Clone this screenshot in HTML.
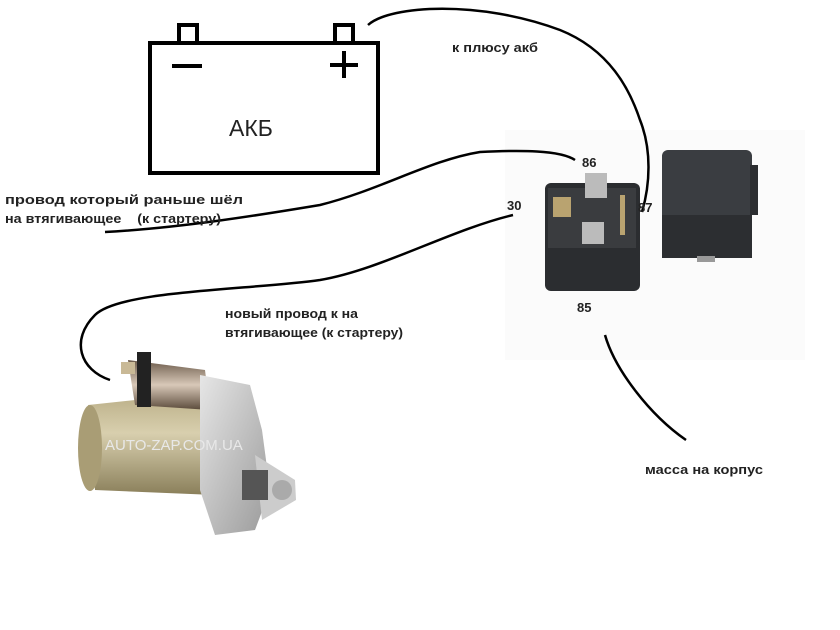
<!DOCTYPE html>
<html><head><meta charset="utf-8"><style>
html,body{margin:0;padding:0;background:#fff;}
svg{display:block}
text{font-family:"Liberation Sans","DejaVu Sans",sans-serif;font-weight:bold;fill:#222;white-space:pre;}
</style></head><body>
<svg width="840" height="630" viewBox="0 0 840 630">
<defs>
<linearGradient id="mot" x1="0" y1="0" x2="0" y2="1"><stop offset="0" stop-color="#b9ad85"/><stop offset="0.4" stop-color="#d8cfae"/><stop offset="1" stop-color="#8a7f5a"/></linearGradient>
<linearGradient id="sil" x1="0" y1="0" x2="1" y2="1"><stop offset="0" stop-color="#e6e6e6"/><stop offset="1" stop-color="#9a9a9a"/></linearGradient>
<linearGradient id="sol" x1="0" y1="0" x2="0" y2="1"><stop offset="0" stop-color="#6b5a4a"/><stop offset="0.5" stop-color="#d8c8b8"/><stop offset="1" stop-color="#5a4a3a"/></linearGradient>
</defs>
<rect x="505" y="130" width="300" height="230" fill="#fbfbfb"/>
<rect x="150" y="43" width="228" height="130" fill="none" stroke="#000" stroke-width="4"/>
<rect x="179" y="25" width="18" height="18" fill="none" stroke="#000" stroke-width="4"/>
<rect x="335" y="25" width="18" height="18" fill="none" stroke="#000" stroke-width="4"/>
<line x1="172" y1="66" x2="202" y2="66" stroke="#000" stroke-width="4"/>
<line x1="330" y1="65" x2="358" y2="65" stroke="#000" stroke-width="4"/>
<line x1="344" y1="51" x2="344" y2="78" stroke="#000" stroke-width="4"/>
<text x="229" y="136" font-size="23" style="font-weight:normal">АКБ</text>
<g fill="none" stroke="#000" stroke-width="2.5">
<path d="M368 25 C390 5 480 0 560 30 C610 50 630 90 640 120 C652 150 650 185 642 212"/>
<path d="M575 160 C560 150 520 150 480 152 C430 160 380 190 320 205 C260 215 180 228 105 232"/>
<path d="M513 215 C450 230 380 270 320 280 C250 290 120 290 95 315 C70 340 80 370 110 380"/>
<path d="M605 335 C615 370 650 415 686 440"/>
</g>
<rect x="545" y="183" width="95" height="108" rx="6" fill="#2b2d30"/>
<rect x="548" y="188" width="88" height="60" fill="#3a3c3f"/>
<rect x="553" y="197" width="18" height="20" fill="#b9a370"/>
<rect x="620" y="195" width="5" height="40" fill="#b9a370"/>
<rect x="585" y="173" width="22" height="25" fill="#bbb"/>
<rect x="582" y="222" width="22" height="22" fill="#bbb"/>
<rect x="662" y="150" width="90" height="108" rx="6" fill="#3a3d41"/>
<rect x="662" y="215" width="90" height="43" fill="#2c2e31"/>
<rect x="750" y="165" width="8" height="50" fill="#2c2e31"/>
<rect x="697" y="256" width="18" height="6" fill="#999"/>
<text x="582" y="167" font-size="13">86</text>
<text x="507" y="210" font-size="13">30</text>
<text x="638" y="212" font-size="13">87</text>
<text x="577" y="312" font-size="13">85</text>
<text x="452" y="52" font-size="13" textLength="86" lengthAdjust="spacingAndGlyphs">к плюсу акб</text>
<text x="5" y="204" font-size="13" textLength="238" lengthAdjust="spacingAndGlyphs">провод который раньше шёл</text>
<text x="5" y="223" font-size="13" textLength="216" lengthAdjust="spacingAndGlyphs">на втягивающее    (к стартеру)</text>
<text x="225" y="318" font-size="13" textLength="133" lengthAdjust="spacingAndGlyphs">новый провод к на</text>
<text x="225" y="337" font-size="13" textLength="178" lengthAdjust="spacingAndGlyphs">втягивающее (к стартеру)</text>
<text x="645" y="474" font-size="13" textLength="118" lengthAdjust="spacingAndGlyphs">масса на корпус</text>
<path d="M88 405 L210 392 L215 495 L95 490 Z" fill="url(#mot)"/>
<ellipse cx="90" cy="448" rx="12" ry="43" fill="#a99d75"/>
<path d="M128 360 L205 370 L210 410 L135 405 Z" fill="url(#sol)"/>
<rect x="137" y="352" width="14" height="55" fill="#222"/>
<rect x="121" y="362" width="14" height="12" fill="#c9b996"/>
<path d="M200 375 L250 385 L262 430 L270 490 L255 530 L215 535 L200 490 Z" fill="url(#sil)"/>
<path d="M255 455 L295 480 L296 500 L262 520 Z" fill="#ccc"/>
<rect x="242" y="470" width="26" height="30" fill="#555"/>
<ellipse cx="282" cy="490" rx="10" ry="10" fill="#aaa"/>
<text x="105" y="450" font-size="15" style="fill:#e8e8e8;font-weight:normal">AUTO-ZAP.COM.UA</text>
</svg>
</body></html>
